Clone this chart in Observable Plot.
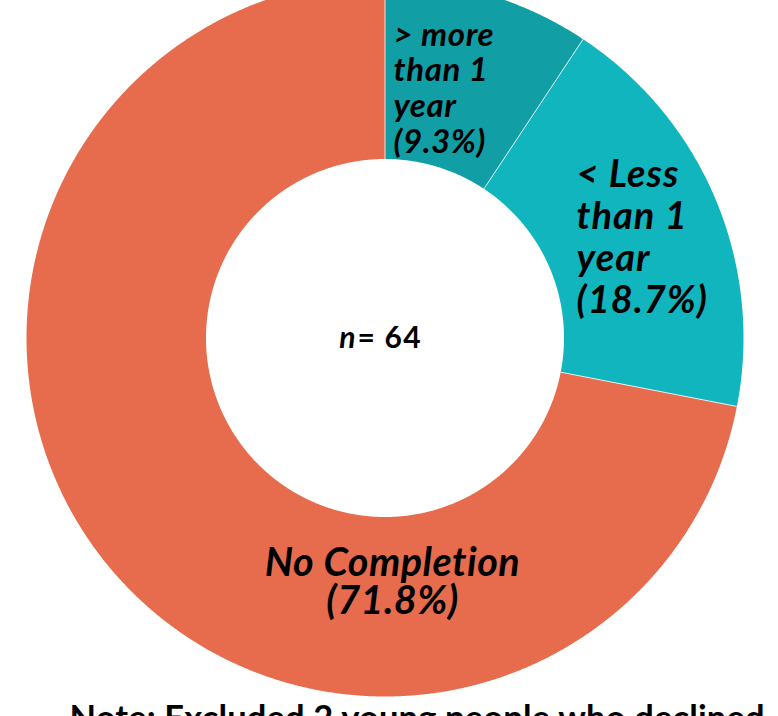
<!DOCTYPE html>
<html><head><meta charset="utf-8">
<script src="https://cdn.jsdelivr.net/npm/d3@7"></script>
<script src="https://cdn.jsdelivr.net/npm/@observablehq/plot@0.6"></script>
<style>html,body{margin:0;padding:0;background:#fff;} svg{display:block;} svg text{font-variant-ligatures:none;}</style>
</head><body><div id="chart"></div>
<script>
// ---- data ----
const categories = ["> more than 1 year", "< Less than 1 year", "No Completion"];
const shares = [9.3, 18.7, 71.8];
const colors = ["#119ea5", "#10b5bd", "#e76c4e"];
const labelTexts = ["> more\nthan 1\nyear\n(9.3%)", "< Less\nthan 1\nyear\n(18.7%)", "No Completion\n(71.8%)"];
const sampleSize = 64;
const noteText = "Note: Excluded 2 young people who declined";

// ---- geometry ----
const W = 778, H = 716;
const cx = 384.5, cy = 337.5, R = 358.5, R0 = 179;
const arcs = d3.pie().sort(null).value(d => d)(shares);
const ring = [];
arcs.forEach((p, i) => {
  const n = Math.ceil((p.endAngle - p.startAngle) / 0.004);
  const pt = (a, rad) => ({cat: categories[i], x: cx + rad * Math.sin(a), y: cy - rad * Math.cos(a)});
  for (let k = 0; k <= n; k++) ring.push(pt(p.startAngle + (p.endAngle - p.startAngle) * k / n, R));
  for (let k = n; k >= 0; k--) ring.push(pt(p.startAngle + (p.endAngle - p.startAngle) * k / n, R0));
});
const seps = arcs.map(p => ({
  x1: cx + R0 * Math.sin(p.endAngle), y1: cy - R0 * Math.cos(p.endAngle),
  x2: cx + R * Math.sin(p.endAngle), y2: cy - R * Math.cos(p.endAngle)
}));

const font = "Lato, 'Noto Sans', sans-serif";
const chart = Plot.plot({
  width: W, height: H, margin: 0,
  x: {domain: [0, W], axis: null},
  y: {domain: [0, H], range: [0, H], axis: null},
  color: {domain: categories, range: colors},
  style: {fontFamily: font, background: "#fff", overflow: "hidden"},
  marks: [
    Plot.line(ring, {x: "x", y: "y", z: "cat", fill: "cat", stroke: null}),
    Plot.link(seps, {x1: "x1", y1: "y1", x2: "x2", y2: "y2", stroke: "#fff", strokeWidth: 1, strokeOpacity: 0.8}),
    Plot.text([labelTexts[0]], {x: 393, y: 152, text: d => d, textAnchor: "start", lineAnchor: "bottom", lineHeight: 1.08, fontSize: 33, fontWeight: "bold", fontStyle: "italic", fill: "#000"}),
    Plot.text([labelTexts[1]], {x: 576, y: 312, text: d => d, textAnchor: "start", lineAnchor: "bottom", lineHeight: 1.105, fontSize: 38, fontWeight: "bold", fontStyle: "italic", fill: "#000"}),
    Plot.text([labelTexts[2]], {x: 392, y: 613, text: d => d, textAnchor: "middle", lineAnchor: "bottom", lineHeight: 0.96, fontSize: 39.5, fontWeight: "bold", fontStyle: "italic", fill: "#000"}),
    Plot.text(["n"], {x: 355, y: 347, text: d => d, textAnchor: "end", lineAnchor: "bottom", fontSize: 30, fontWeight: "bold", fontStyle: "italic", fill: "#000"}),
    Plot.text([sampleSize], {x: 357, y: 347, text: d => "= " + d, textAnchor: "start", lineAnchor: "bottom", fontSize: 30, fontWeight: "bold", fill: "#000"}),
    Plot.text([noteText], {x: 69, y: 729, text: d => d, textAnchor: "start", lineAnchor: "bottom", fontSize: 34.5, fontWeight: "bold", fill: "#000"})
  ]
});
// slight tracking to match the reference's text widths
const spacing = [0.6, 1.0, 0.5, 0, 1.2, 0.15];
chart.querySelectorAll('g[aria-label="text"]').forEach((g, i) => {
  if (spacing[i] != null) g.style.letterSpacing = spacing[i] + "px";
});
document.getElementById("chart").appendChild(chart);
</script>
</body></html>
